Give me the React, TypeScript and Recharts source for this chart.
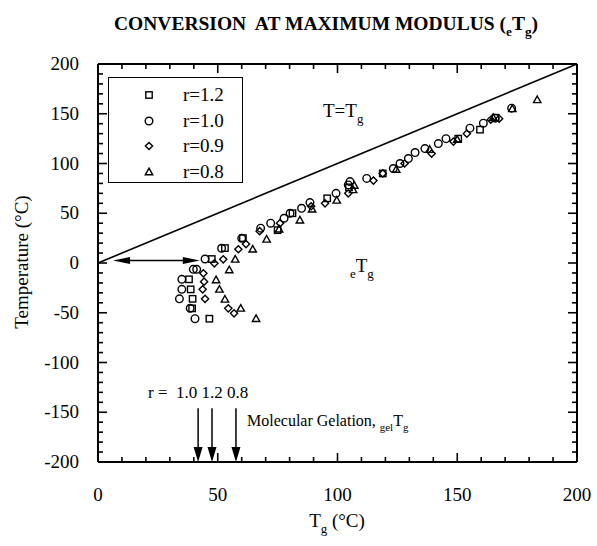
import { ScatterChart, Scatter, XAxis, YAxis, ReferenceLine } from 'recharts';

const FONT = '"Liberation Serif", "Times New Roman", serif';

// conversion at maximum modulus: [Tg, T] pairs in °C for each stoichiometric ratio
const r12: [number, number][] = [
  [46.5, -56], [39.3, -45.6], [39.5, -36], [38.7, -26.5], [38, -16.4], [47.5, 4], [53, 15],
  [60.5, 25], [75, 33], [81.2, 50], [95.7, 65], [104.8, 76], [118.9, 90], [150.4, 125],
  [159.5, 134], [166, 146],
];
const r10: [number, number][] = [
  [40.5, -56], [38.5, -45.5], [34, -36], [35, -26.5], [35, -16.4], [39.8, -6.4], [41.2, -6.4],
  [44.7, 4], [51.6, 14.8], [60, 24.8], [67.9, 35], [72.1, 40], [77.7, 45], [80.2, 50], [85, 55],
  [88.5, 60.7], [99.4, 70], [104.5, 78.5], [105.2, 81.8], [112.2, 85], [123.3, 95], [126.1, 100],
  [129.6, 105], [132.4, 111], [136.5, 115], [142.1, 120], [145.3, 125], [155.3, 135.5],
  [160.9, 140.5], [165.8, 145.6], [172.7, 155.6],
];
const r09: [number, number][] = [
  [56.8, -50.6], [54.4, -45.6], [44.7, -36], [43.7, -26.5], [44.3, -18.8], [44, -10.4],
  [48.6, -0.3], [52.3, 3.7], [58.6, 13.8], [61.8, 19], [67.5, 32], [76, 40], [89, 57],
  [94.8, 60], [104.5, 70], [115, 82.8], [118.9, 90], [128, 100], [139.3, 110], [148.4, 122],
  [154, 130], [164, 144], [167.5, 145],
];
const r08: [number, number][] = [
  [66, -56], [59.6, -45.6], [53, -36.5], [50.7, -26.5], [49.3, -17], [54.8, -7], [57.3, 3.7],
  [64.6, 13.8], [70.4, 23.8], [75.6, 34], [84.3, 43], [89.4, 54], [99.7, 63], [106.5, 73.5],
  [107, 78], [124.5, 94], [138.5, 114], [150, 124], [165, 146], [173, 155], [183.4, 164],
];

// T = Tg diagonal
const diagonal = [{ tg: 0, t: 0 }, { tg: 200, t: 200 }];

// molecular gelation Tg for each ratio
const gelRatios = ['1.0', '1.2', '0.8'];
const gelTg = [41.8, 47.6, 57.6];

const X_DOMAIN: [number, number] = [0, 200];
const Y_DOMAIN: [number, number] = [-200, 200];
const xMajor = [0, 50, 100, 150, 200];
const yMajor = [-200, -150, -100, -50, 0, 50, 100, 150, 200];
const xTicks = Array.from({ length: 19 }, (_, i) => 10 + i * 10);
const yTicks = Array.from({ length: 39 }, (_, i) => -190 + i * 10);

// two interior reference points used to lay out the frame ticks
const TICK_REF = [{ x: 10, y: -190 }, { x: 190, y: 190 }];

type Kind = 'square' | 'circle' | 'diamond' | 'triangle';

const series: { name: string; kind: Kind; data: [number, number][] }[] = [
  { name: 'r=1.2', kind: 'square', data: r12 },
  { name: 'r=1.0', kind: 'circle', data: r10 },
  { name: 'r=0.9', kind: 'diamond', data: r09 },
  { name: 'r=0.8', kind: 'triangle', data: r08 },
];

function Marker({ kind, cx, cy }: { kind: Kind; cx: number; cy: number }) {
  const common = { fill: 'none', stroke: '#000', strokeWidth: 1.4 };
  if (kind === 'square') return <rect x={cx - 3.2} y={cy - 3.2} width={6.4} height={6.4} {...common} />;
  if (kind === 'circle') return <circle cx={cx} cy={cy} r={3.8} {...common} />;
  if (kind === 'diamond')
    return <polygon points={`${cx},${cy - 3.6} ${cx + 3.6},${cy} ${cx},${cy + 3.6} ${cx - 3.6},${cy}`} {...common} />;
  return <polygon points={`${cx},${cy - 3.8} ${cx + 3.7},${cy + 2.8} ${cx - 3.7},${cy + 2.8}`} {...common} />;
}

const labelStyle = { fontFamily: FONT, fontSize: 19, fill: '#000' };
const frame = { stroke: '#000', strokeWidth: 2 };

function BottomLabel({ x, y, payload }: any) {
  return (
    <text x={x} y={y + 39} textAnchor="middle" {...labelStyle}>
      {payload.value}
    </text>
  );
}

function LeftLabel({ x, y, payload }: any) {
  return (
    <text x={x - 19} y={y + 6} textAnchor="end" {...labelStyle}>
      {payload.value}
    </text>
  );
}

function head(tx: number, ty: number, dx: number, dy: number, len: number, half: number) {
  const bx = tx - dx * len;
  const by = ty - dy * len;
  return `${tx},${ty} ${bx - dy * half},${by + dx * half} ${bx + dy * half},${by - dx * half}`;
}

function DownArrow(props: any) {
  const { x1, y1, x2, y2 } = props;
  return (
    <g>
      <line x1={x1} y1={y1} x2={x2} y2={y2 - 10} stroke="#000" strokeWidth={1.5} />
      <polygon points={head(x2, y2, 0, 1, 15, 4.5)} fill="#000" />
    </g>
  );
}

function DoubleArrow(props: any) {
  const { x1, y1, x2, y2 } = props;
  return (
    <g>
      <line x1={x1 + 10} y1={y1} x2={x2 - 10} y2={y2} stroke="#000" strokeWidth={1.5} />
      <polygon points={head(x1, y1, -1, 0, 17, 3.5)} fill="#000" />
      <polygon points={head(x2, y2, 1, 0, 17, 3.5)} fill="#000" />
    </g>
  );
}

// inward ticks on all four sides, every 10 units, longer at the labelled values;
// positions are taken from the two scaled reference points
function FrameTicks(props: any) {
  const { x1, y1, x2, y2 } = props;
  const [a, b] = TICK_REF;
  const px = (v: number) => x1 + ((v - a.x) / (b.x - a.x)) * (x2 - x1);
  const py = (v: number) => y1 + ((v - a.y) / (b.y - a.y)) * (y2 - y1);
  const left = px(X_DOMAIN[0]);
  const right = px(X_DOMAIN[1]);
  const bottom = py(Y_DOMAIN[0]);
  const top = py(Y_DOMAIN[1]);
  const st = { stroke: '#000', strokeWidth: 1.6 };
  return (
    <g>
      {xTicks.map((v) => {
        const len = v % 50 === 0 ? 9 : 5;
        const x = px(v);
        return (
          <g key={`x${v}`}>
            <line x1={x} y1={bottom} x2={x} y2={bottom - len} {...st} />
            <line x1={x} y1={top} x2={x} y2={top + len} {...st} />
          </g>
        );
      })}
      {yTicks.map((v) => {
        const len = v % 50 === 0 ? 9 : 5;
        const y = py(v);
        return (
          <g key={`y${v}`}>
            <line x1={left} y1={y} x2={left + len} y2={y} {...st} />
            <line x1={right} y1={y} x2={right - len} y2={y} {...st} />
          </g>
        );
      })}
    </g>
  );
}

const sub = { fontSize: '0.68em', position: 'relative' as const, top: '0.45em' };

export default function App() {
  return (
    <div style={{ position: 'absolute', left: 0, top: 0, width: 597, height: 546, background: '#fff', fontFamily: FONT, color: '#000' }}>
      <ScatterChart width={597} height={546} margin={{ top: 64, right: 20, bottom: 24, left: 0 }}>
        <XAxis
          type="number"
          dataKey="tg"
          domain={X_DOMAIN}
          ticks={xMajor}
          interval={0}
          height={60}
          tickSize={0}
          tickMargin={0}
          tickLine={false}
          axisLine={frame}
          tick={<BottomLabel />}
        />
        <YAxis
          type="number"
          dataKey="t"
          domain={Y_DOMAIN}
          ticks={yMajor}
          interval={0}
          width={98}
          tickSize={0}
          tickMargin={0}
          tickLine={false}
          axisLine={frame}
          tick={<LeftLabel />}
        />
        {/* top and right sides of the frame */}
        <ReferenceLine y={Y_DOMAIN[1]} stroke="#000" strokeWidth={2} ifOverflow="visible" />
        <ReferenceLine x={X_DOMAIN[1]} stroke="#000" strokeWidth={2} ifOverflow="visible" />
        <Scatter data={diagonal} line={{ stroke: '#000', strokeWidth: 1.6 }} shape={() => <g />} isAnimationActive={false} />
        {series.map((s) => (
          <Scatter
            key={s.name}
            name={s.name}
            data={s.data.map(([tg, t]) => ({ tg, t }))}
            shape={(p: any) => <Marker kind={s.kind} cx={p.cx} cy={p.cy} />}
            isAnimationActive={false}
          />
        ))}
        <ReferenceLine segment={[{ x: 6.3, y: 2.5 }, { x: 42.5, y: 2.5 }]} shape={DoubleArrow} ifOverflow="visible" />
        {gelTg.map((g, i) => (
          <ReferenceLine
            key={gelRatios[i]}
            segment={[{ x: g, y: -146 }, { x: g, y: -200 }]}
            shape={DownArrow}
            ifOverflow="visible"
          />
        ))}
        <ReferenceLine segment={TICK_REF} shape={FrameTicks} ifOverflow="visible" />
      </ScatterChart>

      {/* title */}
      <div style={{ position: 'absolute', left: 0, width: 652, top: 13, textAlign: 'center', fontSize: 19.5, fontWeight: 'bold', whiteSpace: 'nowrap' }}>
        CONVERSION&nbsp; AT MAXIMUM MODULUS (<span style={sub}>e</span>T<span style={sub}>g</span>)
      </div>

      {/* legend */}
      <div style={{ position: 'absolute', left: 108, top: 77, width: 133, height: 104, border: '1.5px solid #000' }}>
        {series.map((s, i) => (
          <div key={s.name} style={{ position: 'absolute', left: 0, top: 6 + i * 25.5, height: 22, display: 'flex', alignItems: 'center' }}>
            <svg width={60} height={22}>
              <Marker kind={s.kind} cx={40} cy={11} />
            </svg>
            <span style={{ fontSize: 19, marginLeft: 14 }}>{s.name}</span>
          </div>
        ))}
      </div>

      <div style={{ position: 'absolute', left: 323, top: 100, fontSize: 19, whiteSpace: 'nowrap' }}>
        T=T<span style={sub}>g</span>
      </div>
      <div style={{ position: 'absolute', left: 350, top: 255, fontSize: 19, whiteSpace: 'nowrap' }}>
        <span style={sub}>e</span>T<span style={sub}>g</span>
      </div>

      <div style={{ position: 'absolute', left: 148, top: 383, fontSize: 17, whiteSpace: 'nowrap' }}>
        r =&nbsp; {gelRatios.join(' ')}
      </div>
      <div style={{ position: 'absolute', left: 247, top: 412, fontSize: 16, whiteSpace: 'nowrap' }}>
        Molecular Gelation, <span style={sub}>gel</span>T<span style={sub}>g</span>
      </div>

      {/* axis titles */}
      <div style={{ position: 'absolute', left: 0, width: 674, top: 510, textAlign: 'center', fontSize: 19, whiteSpace: 'nowrap' }}>
        T<span style={sub}>g</span> (°C)
      </div>
      <div
        style={{
          position: 'absolute',
          left: 22,
          top: 262,
          fontSize: 19,
          whiteSpace: 'nowrap',
          transform: 'translate(-50%, -50%) rotate(-90deg)',
        }}
      >
        Temperature (°C)
      </div>
    </div>
  );
}
